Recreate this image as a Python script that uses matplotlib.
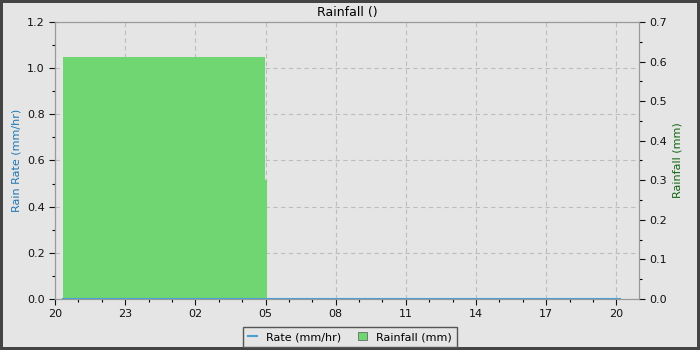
import numpy as np
import pandas as pd
import matplotlib
matplotlib.use("Agg")
import matplotlib.pyplot as plt
import matplotlib.dates as mdates
from matplotlib.lines import Line2D
from matplotlib.patches import Patch

# Rainfall buckets (mm): start, end, amount
bar_start = pd.to_datetime(["2024-01-20 20:20", "2024-01-21 04:00"])
bar_end = pd.to_datetime(["2024-01-21 04:58", "2024-01-21 05:05"])
bar_mm = [0.6125, 0.30]

# Rain rate (mm/hr)
rate_time = pd.to_datetime(["2024-01-20 20:20", "2024-01-21 05:00", "2024-01-21 12:00",
                            "2024-01-21 20:10"])
rate_vals = [0.0, 0.0, 0.0, 0.0]

x_start = pd.Timestamp("2024-01-20 20:00")
x_end = pd.Timestamp("2024-01-21 20:58")

bg = '#e5e5e5'
fig = plt.figure(figsize=(7, 3.5), dpi=100, facecolor=bg, edgecolor='#444444', linewidth=3)
ax = fig.add_axes([55/700, 1 - 299/350, (639-55)/700, (299-22)/350])
ax.set_facecolor(bg)
ax2 = ax.twinx()
ax2.patch.set_visible(False)

# bars on right axis (drawn above the grid of the left axis)
for s, e, v in zip(bar_start, bar_end, bar_mm):
    ax2.bar(s, v, width=(e - s), align='edge', color='#70d672', edgecolor='none', zorder=2)

# rate line uses the left axis scale, drawn on top
ax2.plot(rate_time, rate_vals, color='#4a9fd4', lw=1.5, zorder=5, transform=ax.transData)

ax.set_xlim(x_start, x_end)
ax.set_ylim(0, 1.2)
ax2.set_ylim(0, 0.7)

ax.xaxis.set_major_locator(mdates.HourLocator(byhour=range(2, 24, 3)))
ax.xaxis.set_minor_locator(mdates.HourLocator())
ax.xaxis.set_major_formatter(mdates.DateFormatter('%H'))
ax.yaxis.set_major_locator(plt.MultipleLocator(0.2))
ax.yaxis.set_minor_locator(plt.MultipleLocator(0.1))
ax2.yaxis.set_major_locator(plt.MultipleLocator(0.1))
ax2.yaxis.set_minor_locator(plt.MultipleLocator(0.05))

ax.grid(True, which='major', color='#bdbdbd', linestyle=(0, (4, 3)), lw=0.8)
ax.set_axisbelow(True)

for a in (ax, ax2):
    for sp in a.spines.values():
        sp.set_color('#999999')
    a.tick_params(labelsize=8, colors='#111111', length=4, width=0.8)
    a.tick_params(which='minor', length=2.5, width=0.8)

ax.set_ylabel("Rain Rate (mm/hr)", color='#1f77b4', fontsize=8)
ax2.set_ylabel("Rainfall (mm)", color='#116611', fontsize=8)
ax.set_title("Rainfall ()", fontsize=9, pad=4)

handles = [Line2D([0], [0], color='#4a9fd4', lw=1.5),
           Patch(facecolor='#70d672', edgecolor='#555555', lw=0.5)]
leg = fig.legend(handles, ["Rate (mm/hr)", "Rainfall (mm)"], loc='center',
                 bbox_to_anchor=(350/700, 1 - 337/350), ncol=2, fontsize=8,
                 frameon=True, fancybox=False, handlelength=0.8, handleheight=0.8,
                 columnspacing=1.5, borderpad=0.45)
leg.get_frame().set_edgecolor('#555555')
leg.get_frame().set_facecolor(bg)
leg.get_frame().set_alpha(1)

fig.savefig("out.png", dpi=100, facecolor=bg, edgecolor='#444444')
